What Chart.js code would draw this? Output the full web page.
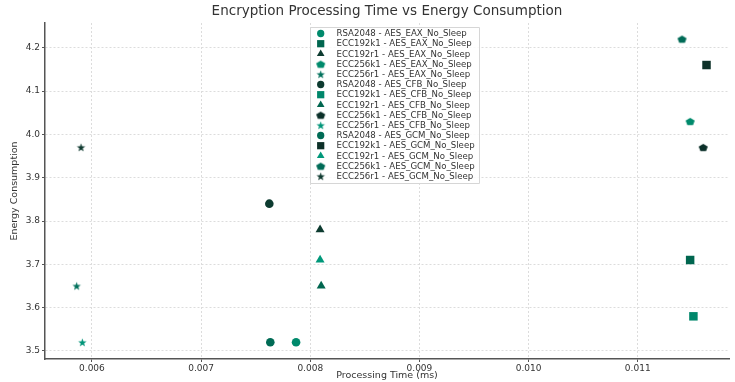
<!DOCTYPE html>
<html>
<head>
<meta charset="utf-8">
<script src="https://cdn.jsdelivr.net/npm/chart.js@4/dist/chart.umd.min.js"></script>
<style>
  html, body { margin: 0; padding: 0; background: #fff; }
  #wrap { width: 735px; height: 382px; }
</style>
</head>
<body>
<div id="wrap"><canvas id="energyChart"></canvas></div>
<script>
// one point per key/mode combination
const seriesLabels = [
  "RSA2048 - AES_EAX_No_Sleep",
  "ECC192k1 - AES_EAX_No_Sleep",
  "ECC192r1 - AES_EAX_No_Sleep",
  "ECC256k1 - AES_EAX_No_Sleep",
  "ECC256r1 - AES_EAX_No_Sleep",
  "RSA2048 - AES_CFB_No_Sleep",
  "ECC192k1 - AES_CFB_No_Sleep",
  "ECC192r1 - AES_CFB_No_Sleep",
  "ECC256k1 - AES_CFB_No_Sleep",
  "ECC256r1 - AES_CFB_No_Sleep",
  "RSA2048 - AES_GCM_No_Sleep",
  "ECC192k1 - AES_GCM_No_Sleep",
  "ECC192r1 - AES_GCM_No_Sleep",
  "ECC256k1 - AES_GCM_No_Sleep",
  "ECC256r1 - AES_GCM_No_Sleep"
];
const processingTime = [
  0.00787, 0.01148, 0.00809, 0.01148, 0.00586,
  0.007625, 0.01151, 0.0081, 0.0116, 0.005912,
  0.007634, 0.01163, 0.00809, 0.011406, 0.0059
];
const energyConsumption = [
  3.52, 3.71, 3.78, 4.03, 3.65,
  3.84, 3.58, 3.65, 3.97, 3.52,
  3.52, 4.16, 3.71, 4.22, 3.97
];
const xTicks = [0.006, 0.007, 0.008, 0.009, 0.010, 0.011];
const yTicks = [3.5, 3.6, 3.7, 3.8, 3.9, 4.0, 4.1, 4.2];

// marker styling
const markerColors = [
  "#008a6c", "#00664f", "#0d3b30", "#008a6c", "#00705b",
  "#0d3b30", "#00876b", "#00664f", "#0b3029", "#009478",
  "#006b55", "#0d3028", "#00987a", "#006b57", "#0f3a30"
];
const markerShapes = ["circle", "rect", "triangle", "pentagon", "star"];
const markerRadius = { circle: 4.3, rect: 6, triangle: 5.2 };

function shapeCanvas(kind, color) {
  const c = document.createElement("canvas");
  c.width = 11; c.height = 11;
  const g = c.getContext("2d");
  g.fillStyle = color;
  g.beginPath();
  const cx = 5.5, cy = 5.5;
  if (kind === "pentagon") {
    for (let i = 0; i < 5; i++) {
      const a = -Math.PI / 2 + i * 2 * Math.PI / 5;
      g.lineTo(cx + 4.8 * Math.cos(a), cy + 0.4 + 4 * Math.sin(a));
    }
  } else {
    for (let i = 0; i < 10; i++) {
      const a = -Math.PI / 2 + i * Math.PI / 5;
      const r = i % 2 === 0 ? 4.4 : 1.8;
      g.lineTo(cx + r * Math.cos(a), cy + 0.4 + r * Math.sin(a));
    }
  }
  g.closePath();
  g.fill();
  return c;
}

const datasets = seriesLabels.map((label, i) => {
  const kind = markerShapes[i % 5];
  const color = markerColors[i];
  let style = kind;
  if (kind === "pentagon" || kind === "star") style = shapeCanvas(kind, color);
  const r = markerRadius[kind] || 4.5;
  return {
    label: label,
    data: [{ x: processingTime[i], y: energyConsumption[i] }],
    pointStyle: style,
    pointRadius: r,
    pointHoverRadius: r,
    backgroundColor: color,
    borderColor: color,
    borderWidth: 0
  };
});

// legend box drawn inside the plot, like the original
const boxLegend = {
  id: "boxLegend",
  afterDraw(chart) {
    const ctx = chart.ctx;
    const left = 310, top = 27, w = 169, h = 156;
    ctx.save();
    ctx.fillStyle = "rgba(255,255,255,0.85)";
    ctx.strokeStyle = "#d6d6d6";
    ctx.lineWidth = 1;
    ctx.beginPath();
    ctx.rect(left + 0.5, top + 0.5, w, h);
    ctx.fill();
    ctx.stroke();
    ctx.font = "8.6px 'DejaVu Sans'";
    ctx.textBaseline = "middle";
    chart.data.datasets.forEach((ds, i) => {
      const y = 33.5 + i * 10.2;
      const st = ds.pointStyle;
      const r = typeof st === "string" ? ds.pointRadius * 0.85 : 0;
      ctx.fillStyle = ds.backgroundColor;
      Chart.helpers.drawPoint(ctx, {
        pointStyle: st, radius: r, rotation: 0, borderWidth: 0
      }, 320.7, y);
      ctx.fillStyle = "#333";
      ctx.fillText(ds.label, 336.5, y + 0.5);
    });
    ctx.restore();
  }
};

const ctx = document.getElementById("energyChart").getContext("2d");
new Chart(ctx, {
  type: "scatter",
  data: { datasets: datasets },
  options: {
    responsive: true,
    maintainAspectRatio: false,
    animation: false,
    layout: { padding: { left: 0, right: 1, top: 0, bottom: 0 } },
    plugins: {
      legend: { display: false },
      tooltip: { enabled: false },
      title: {
        display: true,
        fullSize: false,
        text: "Encryption Processing Time vs Energy Consumption",
        color: "#333",
        font: { family: "DejaVu Sans", size: 13.5, weight: "normal", lineHeight: 1.2 },
        padding: { top: 3.4, bottom: 3.4 }
      }
    },
    scales: {
      x: {
        type: "linear",
        min: 0.00557,
        max: 0.011836,
        afterBuildTicks: (axis) => { axis.ticks = xTicks.map(v => ({ value: v })); },
        afterFit: (scale) => { scale.height = 23; },
        ticks: {
          color: "#333",
          font: { family: "DejaVu Sans", size: 9 },
          padding: 1,
          maxRotation: 0,
          callback: (v) => v.toFixed(3)
        },
        grid: { color: "#dcdcdc", tickColor: "#555", tickLength: 3 },
        border: { color: "#555", width: 1.5, dash: [2, 2] },
        title: {
          display: true,
          text: "Processing Time (ms)",
          color: "#333",
          font: { family: "DejaVu Sans", size: 9.5 },
          padding: { top: 0, bottom: 1 }
        }
      },
      y: {
        type: "linear",
        min: 3.4815,
        max: 4.257,
        afterBuildTicks: (axis) => { axis.ticks = yTicks.map(v => ({ value: v })); },
        afterFit: (scale) => { scale.width = 45; },
        ticks: {
          color: "#333",
          font: { family: "DejaVu Sans", size: 9 },
          padding: 2,
          callback: (v) => v.toFixed(1)
        },
        grid: { color: "#dcdcdc", tickColor: "#555", tickLength: 3 },
        border: { color: "#555", width: 1.5, dash: [2, 2] },
        title: {
          display: true,
          text: "Energy Consumption",
          color: "#333",
          font: { family: "DejaVu Sans", size: 9.5 },
          padding: { top: 9, bottom: 0 }
        }
      }
    }
  },
  plugins: [boxLegend]
});
</script>
</body>
</html>
